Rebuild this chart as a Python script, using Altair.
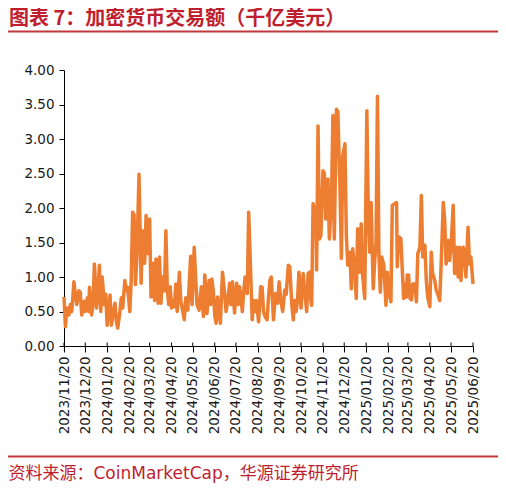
import altair as alt
import pandas as pd

START = "2023-11-20"

# day offsets from START and crypto trading volume (hundred billion USD)
days_a = [0, 2, 4, 7, 9, 11, 14, 16, 18, 21, 23, 25, 28, 30, 33, 35, 36, 39, 41, 43, 46, 48, 50, 52, 54,
          57, 59, 61, 63, 65, 67, 69, 72, 74, 76, 79, 81, 83, 86, 88, 90, 93, 95, 97, 99, 101, 103, 106,
          109, 111, 114, 116, 118, 121]
vals_a = [0.71, 0.28, 0.55, 0.45, 0.6, 0.5, 0.93, 0.75, 0.6, 0.8, 0.78, 0.45, 0.65, 0.5, 0.7, 0.5, 0.85,
          0.45, 0.6, 1.19, 0.55, 0.8, 1.17, 0.5, 1.0, 0.6, 0.75, 0.3, 0.5, 0.74, 0.3, 0.45, 0.62, 0.35,
          0.26, 0.5, 0.7, 0.55, 0.95, 0.8, 0.85, 0.5, 0.95, 1.94, 1.9, 0.89, 1.3, 2.49, 0.91, 1.67, 1.2,
          1.89, 1.34, 1.84]

days_b = [123, 126, 128, 130, 133, 135, 137, 139, 142, 144, 146, 148, 150, 152, 154, 156, 158, 160, 163,
          165, 167, 170, 172, 175, 177, 179, 181, 184, 186, 188, 191, 194, 197, 199, 202, 205, 207, 209,
          211, 213, 215, 217, 219, 221, 224, 227, 229, 232, 234, 236, 238, 241, 244]
vals_b = [0.71, 1.2, 0.66, 1.26, 0.62, 1.29, 0.62, 1.0, 0.8, 1.67, 0.81, 0.6, 0.86, 0.55, 0.66, 0.57, 0.9,
          0.5, 1.07, 0.66, 0.55, 0.38, 0.7, 0.52, 0.9, 1.3, 0.6, 1.43, 1.0, 0.6, 0.52, 0.86, 0.43, 1.03,
          0.47, 0.95, 0.6, 0.97, 0.8, 0.45, 0.33, 0.71, 0.5, 0.33, 1.07, 0.76, 0.5, 0.7, 0.91, 0.6, 0.93,
          0.48, 0.91]

days_c = [246, 248, 250, 252, 254, 256, 259, 261, 264, 266, 268, 270, 272, 275, 278, 280, 282, 284, 287,
          289, 291, 293, 296, 299, 302, 304, 306, 309, 312, 314, 317, 319, 322, 324, 326, 328, 330, 332,
          335, 338, 340, 343, 345, 347, 349, 350]
vals_c = [0.6, 0.86, 0.7, 0.5, 0.8, 1.0, 0.76, 1.94, 1.0, 0.38, 0.66, 0.5, 0.66, 0.35, 0.86, 0.85, 0.5,
          0.43, 0.38, 0.7, 0.95, 1.0, 0.38, 0.76, 0.62, 0.93, 0.7, 0.5, 0.81, 0.75, 1.17, 1.15, 0.6, 0.38,
          0.66, 0.5, 0.66, 1.07, 0.55, 1.05, 0.8, 0.5, 1.05, 1.07, 0.64, 0.59]

days_d = [352, 354, 356, 357, 359, 361, 363, 366, 368, 370, 373, 375, 378, 380, 382, 385, 387, 390, 392,
          394, 397, 399, 401, 404, 406, 408, 411, 413, 415, 418, 420, 422, 425, 428, 430, 432, 434, 437,
          439, 441, 443, 445, 447, 449, 452, 455, 457, 459, 462]
vals_d = [2.06, 1.95, 2.0, 1.1, 3.19, 1.55, 1.6, 2.54, 2.5, 1.84, 2.42, 1.55, 2.08, 3.34, 1.55, 3.43, 3.4,
          2.32, 1.27, 2.76, 2.93, 1.6, 1.17, 1.36, 0.83, 1.41, 1.07, 0.69, 1.7, 1.07, 1.77, 1.02, 0.69,
          3.41, 1.94, 1.36, 2.08, 0.83, 1.22, 1.5, 3.62, 1.36, 0.78, 1.29, 1.17, 0.59, 1.07, 0.78, 0.64]

days_e = [464, 467, 470, 471, 473, 476, 478, 480, 482, 484, 485, 487, 489, 491, 493, 496, 498, 500, 503,
          505, 507, 510, 512, 514, 517, 519, 521, 524, 526, 528, 531, 533, 536, 538, 540, 543, 545, 547,
          550, 552, 555, 557, 559, 561, 564, 566, 568, 571, 573, 575, 578]
vals_e = [2.04, 2.06, 2.08, 1.15, 1.58, 1.56, 1.12, 0.69, 0.9, 0.71, 1.03, 1.03, 0.69, 0.67, 0.9, 0.9,
          0.64, 1.34, 1.43, 2.18, 1.29, 1.46, 0.95, 0.71, 0.57, 1.36, 1.05, 0.95, 0.81, 0.76, 0.66, 1.19,
          2.08, 1.82, 1.19, 1.53, 1.24, 1.43, 2.04, 1.05, 1.43, 1.0, 1.43, 0.95, 1.43, 1.39, 1.0, 1.72,
          1.19, 1.29, 0.9]

tick_labels = ["2023/11/20", "2023/12/20", "2024/01/20", "2024/02/20", "2024/03/20", "2024/04/20",
               "2024/05/20", "2024/06/20", "2024/07/20", "2024/08/20", "2024/09/20", "2024/10/20",
               "2024/11/20", "2024/12/20", "2025/01/20", "2025/02/20", "2025/03/20", "2025/04/20",
               "2025/05/20", "2025/06/20"]
y_ticks = [0, 0.5, 1.0, 1.5, 2.0, 2.5, 3.0, 3.5, 4.0]

TITLE = "图表 7：加密货币交易额（千亿美元）"
SOURCE = "资料来源：CoinMarketCap，华源证券研究所"

days = days_a + days_b + days_c + days_d + days_e
vals = vals_a + vals_b + vals_c + vals_d + vals_e
dates = [(pd.Timestamp(START) + pd.Timedelta(days=d)).strftime("%Y-%m-%d") for d in days]
df = pd.DataFrame({"date": dates, "value": vals})

tick_dt = [alt.DateTime(year=int(s[:4]), month=int(s[5:7]), date=int(s[8:10]), utc=True) for s in tick_labels]
tick_df = pd.DataFrame({"date": [s.replace("/", "-") for s in tick_labels]})

RED_TEXT = "#BF1E2E"
RED_LINE = "#C3363C"
AXIS_FONT = "DejaVu Sans"

x_scale = alt.Scale(type="utc", domain=[tick_dt[0], tick_dt[-1]])
x_axis = alt.Axis(values=tick_dt, labelExpr="utcFormat(datum.value, '%Y/%m/%d')",
                  labelAngle=-90, title=None, grid=False, domainColor="black",
                  tickColor="black", tickSize=6, labelPadding=4, labelFont=AXIS_FONT,
                  labelFontSize=13.5, labelColor="#1a1a1a", labelOverlap=False,
                  labelFlush=False)

line = alt.Chart(df).mark_line(color="#ED7D31", strokeWidth=3.5, strokeJoin="round").encode(
    x=alt.X("date:T", scale=x_scale, axis=x_axis),
    y=alt.Y("value:Q",
            scale=alt.Scale(domain=[0, 4], nice=False),
            axis=alt.Axis(values=y_ticks, format=".2f", title=None, grid=False, domainColor="black",
                          tickColor="black", tickSize=5, labelPadding=5, labelFont=AXIS_FONT,
                          labelFontSize=13.5, labelColor="#1a1a1a")),
)

# upper half of the crossing x-axis ticks
tick_up = alt.Chart(tick_df).mark_rule(color="black", strokeWidth=1).encode(
    x=alt.X("date:T", scale=x_scale, axis=x_axis), y=alt.value(272.5), y2=alt.value(276))

one = pd.DataFrame({"t": [TITLE]})
title_text = alt.Chart(one).mark_text(
    align="left", baseline="middle", font="Noto Sans CJK SC", fontWeight="bold", fontSize=20,
    color=RED_TEXT
).encode(text="t:N", x=alt.value(-55), y=alt.value(-51))

src = pd.DataFrame({"t": [SOURCE]})
source_text = alt.Chart(src).mark_text(
    align="left", baseline="middle", font="DejaVu Sans, Noto Sans CJK SC", fontSize=17,
    color=RED_TEXT
).encode(text="t:N", x=alt.value(-55.5), y=alt.value(404))

rule_df = pd.DataFrame({"k": [0]})
top_rule = alt.Chart(rule_df).mark_rule(color=RED_LINE, strokeWidth=1.8).encode(
    x=alt.value(-56), x2=alt.value(436), y=alt.value(-38.5))
bottom_rule = alt.Chart(rule_df).mark_rule(color=RED_LINE, strokeWidth=1.8).encode(
    x=alt.value(-56), x2=alt.value(436), y=alt.value(386.5))

chart = alt.layer(line, tick_up, title_text, source_text, top_rule, bottom_rule).properties(
    width=409, height=276,
    autosize=alt.AutoSizeParams(type="none"),
    padding={"left": 56, "top": 62, "right": 25, "bottom": 138},
    background="white",
).configure_view(stroke=None)

chart.save("out.html", embed_options={"renderer": "svg", "actions": False})
